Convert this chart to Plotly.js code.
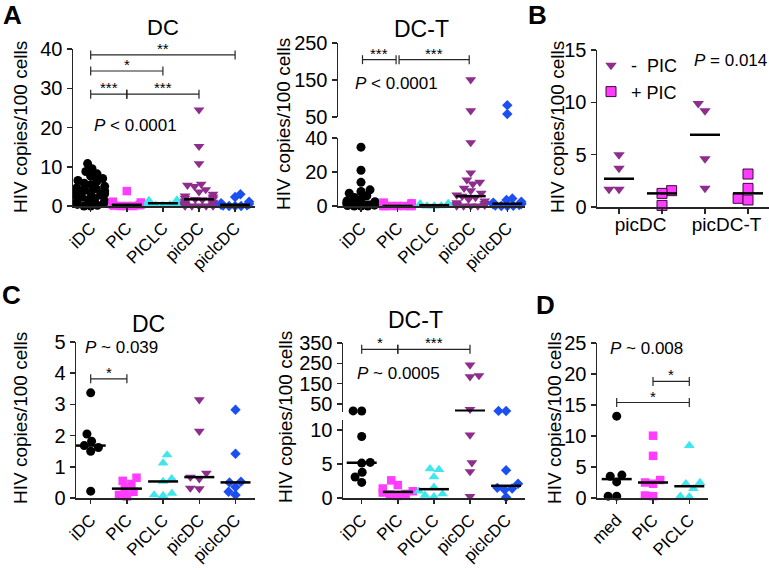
<!DOCTYPE html>
<html><head><meta charset="utf-8">
<script src="https://cdn.plot.ly/plotly-3.0.1.min.js"></script>
<style>html,body{margin:0;padding:0;background:#fff}#chart{width:769px;height:570px}</style>
</head><body><div id="chart"></div>
<script>
// ---------------- DATA ----------------
const cats5 = ['iDC', 'PIC', 'PICLC', 'picDC', 'piclcDC'];
const catsD = ['med', 'PIC', 'PICLC'];
const catsB = ['picDC', 'picDC-T'];
const legendB = ['-  PIC', '+ PIC'];

// Panel A, DC (HIV copies/100 cells)
const aDC_iDC = [10.8, 9.5, 8.8, 8.2, 7.6, 7.0, 6.5, 6.2, 5.8, 5.4, 5.0, 4.6, 4.3, 4.0, 3.8, 3.7, 3.4, 3.1, 2.8, 2.5, 2.2, 1.9, 1.6, 1.3, 1.0, 0.7, 0.4, 0.2, 0, 0];
const aDC_PIC = [3.8, 1.1, 0.9, 0.6, 0.4, 0.3, 0.2, 0.1, 0, 0, 0];
const aDC_PICLC = [1.5, 1.4, 1.2, 1.0, 0.9, 0.8, 0.7, 0.6, 0.5, 0.4, 0.3, 0.2, 0.1];
const aDC_picDC = [24.5, 15.2, 10.8, 5.6, 5.3, 5.0, 4.2, 3.6, 3.0, 2.6, 2.3, 2.0, 1.8, 1.7, 1.6, 1.3, 1.0, 0.8, 0.6, 0.4, 0.2, 0.1, 0, 0, 0, 0, 0];
const aDC_piclcDC = [3.0, 2.3, 1.1, 0.7, 0.5, 0.3, 0.2, 0.1, 0, 0, 0];

// Panel A, DC-T
const aDCT_iDC = [34.6, 21, 13.9, 9.5, 8.5, 7.5, 6.0, 5.0, 4.0, 3.0, 2.5, 2.2, 2.0, 1.5, 1.2, 0.8, 0.5, 0.3, 0, 0, 0];
const aDCT_PIC = [2.0, 1.6, 1.2, 0.8, 0.5, 0.3, 0.1, 0, 0, 0, 0, 0, 0, 0];
const aDCT_PICLC = [1.5, 1.3, 1.0, 0.8, 0.6, 0.5, 0.3, 0.2, 0.1, 0, 0];
const aDCT_picDC = [151, 67, 37.3, 19.5, 15.3, 14, 13, 10.5, 9, 7.5, 6.5, 5.8, 5, 4, 3, 2, 1.5, 1, 0.5, 0, 0, 0, 0];
const aDCT_piclcDC = [82, 58, 4.4, 3.5, 2.5, 2.0, 1.5, 1.35, 1.2, 1.0, 0.6, 0.3, 0.1, 0, 0];

// Panel B
const bMinus_picDC = [5.0, 3.7, 1.7, 1.7];
const bPlus_picDC = [1.56, 1.3, 0.15];
const bMinus_picDCT = [9.9, 9.2, 4.6, 1.8];
const bPlus_picDCT = [3.15, 1.78, 0.83, 0.67];

// Panel C, DC
const cDC_iDC = [3.37, 2.05, 1.82, 1.68, 1.62, 1.5, 0.22];
const cDC_PIC = [0.65, 0.55, 0.45, 0.3, 0.2, 0.1, 0.05];
const cDC_PICLC = [1.38, 1.12, 0.62, 0.53, 0.15, 0.1, 0.08];
const cDC_picDC = [3.15, 2.14, 0.8, 0.67, 0.62, 0.32, 0.3];
const cDC_piclcDC = [2.83, 1.42, 0.52, 0.5, 0.35, 0.2, 0.1];

// Panel C, DC-T
const cDCT_iDC = [16, 15.5, 9.07, 5.25, 5.15, 3.8, 3.1, 2.3];
const cDCT_PIC = [2.6, 1.9, 1.4, 1.0, 0.8, 0.6, 0.5, 0.3];
const cDCT_PICLC = [4.3, 4.2, 3.1, 1.6, 1.0, 0.6, 0.4, 0.2];
const cDCT_picDC = [242, 190, 184, 24, 9.3, 5.2, 3.9, 0.25];
const cDCT_piclcDC = [16, 15.5, 4.1, 2.1, 1.5, 1.4, 1.2, 0.1];

// Panel D
const d_med = [13.2, 3.7, 3.5, 2.6, 0.3, 0.3];
const d_PIC = [10.05, 6.8, 2.9, 2.5, 2.3, 0.4, 0.3];
const d_PICLC = [8.45, 2.5, 2.3, 1.5, 0.3, 0.2];

// significance brackets: [from category, to category, y value, label]
const sigA_DC = [[0, 1, 28.5, '***'], [1, 3, 28.5, '***'], [0, 2, 34.4, '*'], [0, 4, 38.5, '**']];
const sigA_DCT = [[0, 1, 205, '***'], [1, 3, 205, '***']];
const sigC_DC = [[0, 1, 3.82, '*']];
const sigC_DCT = [[0, 1, 319, '*'], [1, 3, 319, '***']];
const sigD = [[1, 2, 18.8, '*'], [0, 2, 15.4, '*']];

const pA_DC = '<i>P</i> &lt; 0.0001';
const pA_DCT = '<i>P</i> &lt; 0.0001';
const pB = '<i>P</i> = 0.014';
const pC_DC = '<i>P</i> ~ 0.039';
const pC_DCT = '<i>P</i> ~ 0.0005';
const pD = '<i>P</i> ~ 0.008';
const yTitle = 'HIV copies/100 cells';

// ---------------- STYLE ----------------
const W = 769, H = 570;
const FONT = 'Liberation Sans, Arial, Helvetica, sans-serif';
const INK = '#262626';
const styles5 = [
  {symbol: 'circle', color: '#000000', size: 9},
  {symbol: 'square', color: '#ff3cff', size: 8.5},
  {symbol: 'triangle-up', color: '#3ee6ee', size: 9.5},
  {symbol: 'triangle-down', color: '#8e2d8c', size: 9.5},
  {symbol: 'diamond', color: '#1c4ff2', size: 8}
];
const styleBminus = {symbol: 'triangle-down', color: '#8e2d8c', size: 10};
const styleBplus = {symbol: 'square', color: '#ff3cff', size: 10, line: {color: '#3a0a3a', width: 1}};

function axKey(id) { return id[0] + 'axis' + id.slice(1); }
function median(a) {
  const s = a.slice().sort((p, q) => p - q); const n = s.length;
  return n % 2 ? s[(n - 1) / 2] : (s[n / 2 - 1] + s[n / 2]) / 2;
}
// beeswarm offsets (px) for values given in px
function swarm(ys, d, maxOff) {
  const idx = ys.map((y, i) => i).sort((a, b) => ys[a] - ys[b]);
  const placed = []; const out = new Array(ys.length);
  idx.forEach((i, k) => {
    const y = ys[i]; const iv = [];
    placed.forEach(p => { const dy = Math.abs(p.y - y); if (dy < d) { const h = Math.sqrt(d * d - dy * dy); iv.push([p.x - h, p.x + h]); } });
    const c = [0]; iv.forEach(v => c.push(v[0], v[1]));
    c.sort((a, b) => (Math.abs(a) - Math.abs(b)) || (k % 2 ? a - b : b - a));
    let x = c.find(cv => iv.every(v => cv <= v[0] + 1e-6 || cv >= v[1] - 1e-6));
    if (x === undefined) x = 0;
    if (Math.abs(x) > maxOff) x = Math.sign(x) * maxOff;
    placed.push({x, y}); out[i] = x;
  });
  return out;
}

const g5 = (arrs) => arrs.map((v, i) => ({vals: v, pos: i, style: styles5[i]}));
const panels = [
  {xa: 'x', x0: 73, x1: 255, c0: 90.7, cs: 36.1, tickvals: [0, 1, 2, 3, 4], ticktext: cats5,
   ys: [{ya: 'y', lo: 0, hi: 40, top: 49, bot: 206, tv: [0, 10, 20, 30, 40]}],
   groups: g5([aDC_iDC, aDC_PIC, aDC_PICLC, aDC_picDC, aDC_piclcDC]), dens: 0.75, maxOff: 14,
   sig: sigA_DC, sigSeg: 0, gap: 0},
  {xa: 'x2', x0: 338, x1: 525, c0: 361, cs: 36.57, tickvals: [0, 1, 2, 3, 4], ticktext: cats5,
   ys: [{ya: 'y2', lo: 0, hi: 40, top: 138, bot: 206, tv: [0, 20, 40]},
        {ya: 'y3', lo: 50, hi: 250, top: 43, bot: 117, tv: [50, 150, 250]}],
   groups: g5([aDCT_iDC, aDCT_PIC, aDCT_PICLC, aDCT_picDC, aDCT_piclcDC]), dens: 0.75, maxOff: 14,
   sig: sigA_DCT, sigSeg: 1, gap: 1.5},
  {xa: 'x3', x0: 597, x1: 769, c0: 619, cs: 43, tickvals: [0.5, 2.5], ticktext: catsB, minorTicks: [0, 1, 2, 3], tickangle: 0,
   ys: [{ya: 'y4', lo: 0, hi: 15, top: 50, bot: 207, tv: [0, 5, 10, 15]}],
   groups: [
     {vals: bMinus_picDC, pos: 0, style: styleBminus, leg: legendB[0], show: true},
     {vals: bPlus_picDC, pos: 1, style: styleBplus, leg: legendB[1], show: true},
     {vals: bMinus_picDCT, pos: 2, style: styleBminus, leg: legendB[0], show: false},
     {vals: bPlus_picDCT, pos: 3, style: styleBplus, leg: legendB[1], show: false}],
   dens: 1.0, maxOff: 16, sig: [], sigSeg: 0, gap: 0},
  {xa: 'x4', x0: 76, x1: 255, c0: 90.7, cs: 36.2, tickvals: [0, 1, 2, 3, 4], ticktext: cats5,
   ys: [{ya: 'y5', lo: 0, hi: 5, top: 342, bot: 498, tv: [0, 1, 2, 3, 4, 5]}],
   groups: g5([cDC_iDC, cDC_PIC, cDC_PICLC, cDC_picDC, cDC_piclcDC]), dens: 0.95, maxOff: 15,
   sig: sigC_DC, sigSeg: 0, gap: 0},
  {xa: 'x5', x0: 343, x1: 525, c0: 361.7, cs: 36.1, tickvals: [0, 1, 2, 3, 4], ticktext: cats5,
   ys: [{ya: 'y6', lo: 0, hi: 11.5, top: 420, bot: 498, tv: [0, 5, 10]},
        {ya: 'y7', lo: 13, hi: 350, top: 343, bot: 411.5, tv: [50, 150, 250, 350]}],
   groups: g5([cDCT_iDC, cDCT_PIC, cDCT_PICLC, cDCT_picDC, cDCT_piclcDC]), dens: 0.95, maxOff: 15,
   sig: sigC_DCT, sigSeg: 1, gap: 0},
  {xa: 'x6', x0: 597, x1: 708, c0: 616.7, cs: 36.3, tickvals: [0, 1, 2], ticktext: catsD,
   ys: [{ya: 'y8', lo: 0, hi: 25, top: 343, bot: 498, tv: [0, 5, 10, 15, 20, 25]}],
   groups: g5([d_med, d_PIC, d_PICLC]), dens: 0.95, maxOff: 15,
   sig: sigD, sigSeg: 0, gap: 0}
];

const axBase = {showline: true, linecolor: INK, linewidth: 1.5, ticks: 'outside', ticklen: 5, tickwidth: 1.5,
  tickcolor: INK, showgrid: false, zeroline: false, fixedrange: true, tickmode: 'array',
  tickfont: {family: FONT, size: 20, color: '#000'}};

const layout = {width: W, height: H, margin: {l: 0, r: 0, t: 0, b: 0}, paper_bgcolor: '#fff', plot_bgcolor: 'rgba(0,0,0,0)',
  font: {family: FONT, color: '#000'}, showlegend: true,
  legend: {x: 591 / W, y: (H - 47) / H, xanchor: 'left', yanchor: 'top', bgcolor: 'rgba(0,0,0,0)',
    font: {family: FONT, size: 18, color: '#000'}, tracegroupgap: 0, itemwidth: 30},
  shapes: [], annotations: []};
const markTr = [], lineTr = [];

panels.forEach(p => {
  const xk = axKey(p.xa);
  const xax = Object.assign({}, axBase, {
    domain: [p.x0 / W, p.x1 / W], range: [(p.x0 - p.c0) / p.cs, (p.x1 - p.c0) / p.cs], anchor: p.ys[0].ya,
    tickvals: p.tickvals, ticktext: p.ticktext, tickangle: p.tickangle === undefined ? -45 : p.tickangle,
    ticklen: 4, tickfont: {family: FONT, size: p.tickangle === 0 ? 19 : 17, color: '#000'}});
  if (p.minorTicks) {
    xax.ticks = '';
    xax.minor = {tickmode: 'array', tickvals: p.minorTicks, ticks: 'outside', ticklen: 5, tickwidth: 1.5, tickcolor: INK, showgrid: false};
  }
  layout[xk] = xax;
  p.ys.forEach(s => {
    s.ppu = (s.bot - s.top) / (s.hi - s.lo);
    layout[axKey(s.ya)] = Object.assign({}, axBase, {domain: [(H - s.bot) / H, (H - s.top) / H], range: [s.lo, s.hi], anchor: p.xa, tickvals: s.tv});
  });
  const segOf = v => (p.ys.length > 1 && v > p.ys[0].hi) ? 1 : 0;
  p.groups.forEach(g => {
    const st = g.style;
    p.ys.forEach((s, si) => {
      const vs = g.vals.filter(v => segOf(v) === si);
      if (!vs.length) return;
      const offs = swarm(vs.map(v => (v - s.lo) * s.ppu), st.size * p.dens, p.maxOff);
      const tr = {type: 'scatter', mode: 'markers', xaxis: p.xa, yaxis: s.ya, cliponaxis: false, hoverinfo: 'skip',
        x: vs.map((v, i) => g.pos + offs[i] / p.cs), y: vs,
        marker: {symbol: st.symbol, color: st.color, size: st.size, line: st.line || {width: 0}},
        showlegend: false};
      if (g.leg) { tr.name = g.leg; tr.legendgroup = g.leg; tr.showlegend = !!g.show && si === 0; }
      markTr.push(tr);
    });
    const m = median(g.vals); const s = p.ys[segOf(m)]; const w = 15 / p.cs;
    lineTr.push({type: 'scatter', mode: 'lines', xaxis: p.xa, yaxis: s.ya, cliponaxis: false, hoverinfo: 'skip', showlegend: false,
      x: [g.pos - w, g.pos + w], y: [m, m], line: {color: '#000', width: 2.5}});
  });
  const sya = p.ys[p.sigSeg].ya; const gp = p.gap / p.cs;
  p.sig.forEach(([a, b, yv, lab]) => {
    const xa0 = a + gp, xb0 = b - gp;
    const ln = {color: INK, width: 1.2};
    layout.shapes.push({type: 'line', xref: p.xa, yref: sya, x0: xa0, x1: xb0, y0: yv, y1: yv, line: ln});
    [xa0, xb0].forEach(xe => layout.shapes.push({type: 'line', xref: p.xa, yref: sya, ysizemode: 'pixel', yanchor: yv,
      x0: xe, x1: xe, y0: -4.5, y1: 4.5, line: ln}));
    layout.annotations.push({xref: p.xa, yref: sya, x: (a + b) / 2, y: yv, text: lab, showarrow: false,
      yanchor: 'bottom', yshift: -4, font: {family: FONT, size: 15, color: '#000'}});
  });
});

function ann(text, px, py, opt) {
  layout.annotations.push(Object.assign({xref: 'paper', yref: 'paper', x: px / W, y: (H - py) / H, text: text,
    showarrow: false, xanchor: 'center', yanchor: 'middle', font: {family: FONT, size: 18, color: '#000'}}, opt || {}));
}
// panel letters
ann('<b>A</b>', 12, 15, {font: {family: FONT, size: 26, color: '#000'}});
ann('<b>B</b>', 537, 15, {font: {family: FONT, size: 26, color: '#000'}});
ann('<b>C</b>', 11, 295, {font: {family: FONT, size: 26, color: '#000'}});
ann('<b>D</b>', 545, 305, {font: {family: FONT, size: 26, color: '#000'}});
// panel titles
ann('DC', 163, 27, {font: {family: FONT, size: 22, color: '#000'}});
ann('DC-T', 421, 29, {font: {family: FONT, size: 23, color: '#000'}});
ann('DC', 148, 324, {font: {family: FONT, size: 23, color: '#000'}});
ann('DC-T', 415, 320, {font: {family: FONT, size: 23, color: '#000'}});
// y titles
[[20, 127], [283, 124], [557, 127], [20, 418], [285, 417], [554, 418]].forEach(c =>
  ann(yTitle, c[0], c[1], {textangle: -90, font: {family: FONT, size: 19, color: '#000'}}));
// P values
[[pA_DC, 92, 125], [pA_DCT, 353, 83], [pB, 692, 60], [pC_DC, 83, 347], [pC_DCT, 355, 373], [pD, 608, 348]].forEach(c =>
  ann(c[0], c[1], c[2], {xanchor: 'left', font: {family: FONT, size: 17, color: '#000'}}));

Plotly.newPlot('chart', markTr.concat(lineTr), layout, {staticPlot: true, displayModeBar: false});
</script>
</body></html>
